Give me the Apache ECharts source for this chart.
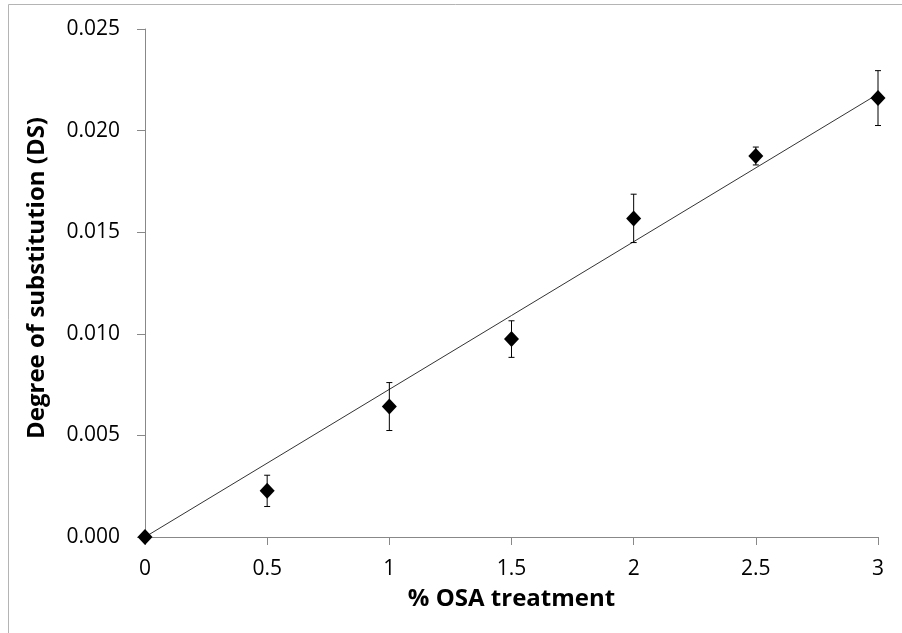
<!DOCTYPE html>
<html><head><meta charset="utf-8">
<script src="https://cdn.jsdelivr.net/npm/echarts@6/dist/echarts.min.js"></script>
<style>html,body{margin:0;padding:0;background:#fff}#c{width:902px;height:633px}</style>
</head><body><div id="c"></div>
<script>
const osa = [0, 0.5, 1, 1.5, 2, 2.5, 3];
const ds = [0, 0.00227, 0.00642, 0.00974, 0.01568, 0.01875, 0.0216];
const sd = [0, 0.00077, 0.00118, 0.0009, 0.00119, 0.00044, 0.00135];
const trendX = [0, 3];
const trendY = [0, 0.0218];
const xTitle = '% OSA treatment';
const yTitle = 'Degree of substitution (DS)';

const FONT = '"Open Sans", "Liberation Sans", sans-serif';
const chart = echarts.init(document.getElementById('c'), null, {renderer: 'canvas'});
chart.setOption({
  animation: false,
  backgroundColor: '#fff',
  grid: {left: 145, right: 24, top: 29, bottom: 96, containLabel: false},
  xAxis: {
    type: 'value', min: 0, max: 3, interval: 0.5,
    name: xTitle, nameLocation: 'middle', nameGap: 50,
    nameTextStyle: {fontFamily: FONT, fontWeight: 'bold', fontSize: 24, color: '#000'},
    axisLine: {onZero: false, lineStyle: {color: '#888', width: 1}},
    axisTick: {show: true, inside: false, length: 8, lineStyle: {color: '#888'}},
    axisLabel: {fontFamily: FONT, fontSize: 21, color: '#000', margin: 22},
    splitLine: {show: false}
  },
  yAxis: {
    type: 'value', min: 0, max: 0.025, interval: 0.005,
    axisLine: {show: true, lineStyle: {color: '#888', width: 1}},
    axisTick: {show: true, inside: false, length: 8, lineStyle: {color: '#888'}},
    axisLabel: {fontFamily: FONT, fontSize: 21, color: '#000', margin: 25,
      formatter: v => v.toFixed(3)},
    splitLine: {show: false}
  },
  graphic: [
    {type: 'rect', shape: {x: 8.5, y: 4.5, width: 1000, height: 1000},
     style: {fill: 'none', stroke: '#b4b4b4', lineWidth: 1}, silent: true, z: -10},
    {type: 'text', x: 37, y: 278, rotation: Math.PI / 2,
     style: {text: yTitle, textAlign: 'center', textVerticalAlign: 'middle',
       font: 'bold 24px ' + FONT, fill: '#000'}}
  ],
  series: [
    {
      type: 'line', data: trendX.map((x, i) => [x, trendY[i]]),
      symbol: 'none', lineStyle: {color: '#333', width: 1}, z: 2
    },
    {
      type: 'custom',
      data: osa.map((x, i) => [x, ds[i], sd[i]]),
      renderItem: function (params, api) {
        const x = api.value(0), y = api.value(1), e = api.value(2);
        if (!e) return null;
        const top = api.coord([x, y + e]);
        const bot = api.coord([x, y - e]);
        const cw = 3;
        const st = {stroke: '#000', lineWidth: 1};
        return {type: 'group', children: [
          {type: 'line', shape: {x1: top[0], y1: top[1], x2: bot[0], y2: bot[1]}, style: st},
          {type: 'line', shape: {x1: top[0] - cw, y1: top[1], x2: top[0] + cw, y2: top[1]}, style: st},
          {type: 'line', shape: {x1: bot[0] - cw, y1: bot[1], x2: bot[0] + cw, y2: bot[1]}, style: st}
        ]};
      },
      z: 3
    },
    {
      type: 'scatter', data: osa.map((x, i) => [x, ds[i]]),
      symbol: 'diamond', symbolSize: [15, 16],
      itemStyle: {color: '#000', opacity: 1}, z: 4
    }
  ]
});
</script></body></html>
